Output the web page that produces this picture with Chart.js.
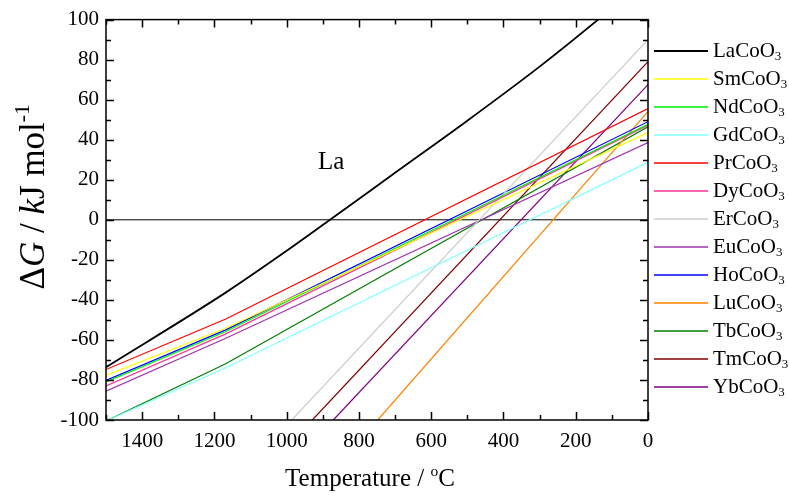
<!DOCTYPE html>
<html>
<head>
<meta charset="utf-8">
<script src="https://cdn.jsdelivr.net/npm/chart.js@4.4.1/dist/chart.umd.min.js"></script>
<style>
  html, body { margin: 0; padding: 0; background: #fff; }
  canvas { display: block; }
</style>
</head>
<body>
<canvas id="chart" width="789" height="497"></canvas>
<script>
// series data (temperature in degC, dG in kJ/mol)
const names = ["LaCoO3", "SmCoO3", "NdCoO3", "GdCoO3", "PrCoO3", "DyCoO3", "ErCoO3",
  "EuCoO3", "HoCoO3", "LuCoO3", "TbCoO3", "TmCoO3", "YbCoO3"];
const colors = ["#000000", "#ffff00", "#00ee00", "#80ffff", "#ff0000", "#ff3399", "#cccccc",
  "#a030b0", "#0000ff", "#ff8000", "#008000", "#800000", "#800080"];

const laTemps = [1500, 1170, 1000, 880, 700, 500, 300, 138, 0];
const laValues = [-73.6, -36.5, -15.5, 0, 23.5, 49.5, 76.5, 100, 121];

const knotTemps = [1500, 1170, 0];
const smValues = [-77.7, -54.3, 43.6];
const ndValues = [-81, -55.9, 47.7];
const gdValues = [-100.5, -74, 28.7];
const prValues = [-74.8, -49.7, 55.6];
const dyValues = [-83, -57.1, 47.2];
const euValues = [-85.6, -59.3, 38.6];
const hoValues = [-80.2, -55.1, 49];
const tbValues = [-100.5, -72, 46.5];

const erTemps = [986, 0];
const erValues = [-100, 90];
const luTemps = [748, 0];
const luValues = [-100, 54];
const tmTemps = [929, 0];
const tmValues = [-100, 79];
const ybTemps = [871, 0];
const ybValues = [-100, 67.5];

const zeroTemps = [1500, 0];
const zeroValues = [0, 0];

const xTicks = [0, 200, 400, 600, 800, 1000, 1200, 1400];

const serif = "'Liberation Serif', 'Times New Roman', serif";

function pts(xs, ys) {
  return xs.map((x, i) => ({ x, y: ys[i] }));
}

const seriesPoints = [
  pts(laTemps, laValues),
  pts(knotTemps, smValues),
  pts(knotTemps, ndValues),
  pts(knotTemps, gdValues),
  pts(knotTemps, prValues),
  pts(knotTemps, dyValues),
  pts(erTemps, erValues),
  pts(knotTemps, euValues),
  pts(knotTemps, hoValues),
  pts(luTemps, luValues),
  pts(knotTemps, tbValues),
  pts(tmTemps, tmValues),
  pts(ybTemps, ybValues),
];

const datasets = names.map((name, i) => ({
  label: name,
  data: seriesPoints[i],
  borderColor: colors[i],
  borderWidth: i === 0 ? 1.8 : 1.2,
  cubicInterpolationMode: i === 0 ? "monotone" : "default",
}));
datasets.push({
  label: "zero",
  data: pts(zeroTemps, zeroValues),
  borderColor: "#000",
  borderWidth: 1,
});

// draw a string made of styled pieces (italic / superscript / subscript)
function drawPieces(ctx, pieces, x, y, size) {
  let cx = x;
  pieces.forEach((p) => {
    const s = p.sup || p.sub ? size * 0.62 : size;
    ctx.font = (p.italic ? "italic " : "") + s + "px " + serif;
    let dy = 0;
    if (p.sup) dy = -size * 0.42;
    if (p.sub) dy = size * 0.28;
    ctx.fillText(p.t, cx, y + dy);
    cx += ctx.measureText(p.t).width;
  });
  return cx - x;
}

function piecesWidth(ctx, pieces, size) {
  let w = 0;
  pieces.forEach((p) => {
    const s = p.sup || p.sub ? size * 0.62 : size;
    ctx.font = (p.italic ? "italic " : "") + s + "px " + serif;
    w += ctx.measureText(p.t).width;
  });
  return w;
}

const decorations = {
  id: "decorations",
  afterDatasetsDraw(chart) {
    const { ctx, chartArea: a, scales } = chart;
    const xs = scales.x, ys = scales.y;
    ctx.save();
    ctx.strokeStyle = "#000";
    ctx.fillStyle = "#000";
    ctx.lineWidth = 1.5;

    // frame
    ctx.strokeRect(a.left, a.top, a.right - a.left, a.bottom - a.top);

    // inward ticks on all four sides
    ctx.beginPath();
    for (let v = 0; v <= 1500; v += 100) {
      const px = Math.round(xs.getPixelForValue(v)) + 0.5;
      const len = v % 200 === 0 ? 8 : 5;
      ctx.moveTo(px, a.bottom); ctx.lineTo(px, a.bottom - len);
      ctx.moveTo(px, a.top); ctx.lineTo(px, a.top + len);
    }
    for (let v = -100; v <= 100; v += 10) {
      const py = Math.round(ys.getPixelForValue(v)) + 0.5;
      const len = v % 20 === 0 ? 8 : 5;
      ctx.moveTo(a.left, py); ctx.lineTo(a.left + len, py);
      ctx.moveTo(a.right, py); ctx.lineTo(a.right - len, py);
    }
    ctx.stroke();

    // legend
    ctx.textBaseline = "middle";
    ctx.textAlign = "left";
    names.forEach((name, i) => {
      const y = 51 + i * 28;
      ctx.strokeStyle = colors[i];
      ctx.lineWidth = i === 0 ? 1.8 : 1.5;
      ctx.beginPath();
      ctx.moveTo(654, y);
      ctx.lineTo(708, y);
      ctx.stroke();
      ctx.fillStyle = "#000";
      drawPieces(ctx, [{ t: name.slice(0, -1) }, { t: "3", sub: true }], 713, y, 21);
    });

    // "La" annotation
    ctx.textBaseline = "alphabetic";
    ctx.font = "25px " + serif;
    ctx.fillText("La", xs.getPixelForValue(913), ys.getPixelForValue(25.5));

    // x title
    const xt = [{ t: "Temperature / " }, { t: "o", sup: true }, { t: "C" }];
    const xw = piecesWidth(ctx, xt, 25);
    drawPieces(ctx, xt, (a.left + a.right) / 2 - 7 - xw / 2, 486, 25);

    // y title, rotated
    const yt = [{ t: "Δ" }, { t: "G", italic: true }, { t: " / " }, { t: "k", italic: true },
      { t: "J mol" }, { t: "-1", sup: true }];
    const yw = piecesWidth(ctx, yt, 35);
    ctx.translate(44, (a.top + a.bottom) / 2 - 23);
    ctx.rotate(-Math.PI / 2);
    drawPieces(ctx, yt, -yw / 2, 0, 35);
    ctx.restore();
  },
};

new Chart(document.getElementById("chart"), {
  type: "line",
  data: { datasets },
  options: {
    responsive: false,
    devicePixelRatio: 1,
    animation: false,
    elements: { point: { radius: 0 }, line: { tension: 0 } },
    layout: { padding: { top: 16, right: 141, bottom: 0, left: 0 } },
    plugins: { legend: { display: false }, tooltip: { enabled: false } },
    scales: {
      x: {
        type: "linear",
        reverse: true,
        min: 0,
        max: 1500,
        grid: { display: false, drawTicks: false },
        border: { display: false },
        afterBuildTicks(scale) {
          scale.ticks = xTicks.map((v) => ({ value: v }));
        },
        afterFit(scale) { scale.height = 77; },
        ticks: {
          color: "#000", padding: 9, maxRotation: 0,
          font: { family: serif, size: 21 },
          callback: (v) => String(v),
        },
      },
      y: {
        min: -100,
        max: 100,
        grid: { display: false, drawTicks: false },
        border: { display: false },
        afterFit(scale) { scale.width = 106; },
        ticks: {
          color: "#000", padding: 7, stepSize: 20,
          font: { family: serif, size: 21 },
          callback: (v) => String(v),
        },
      },
    },
  },
  plugins: [decorations],
});
</script>
</body>
</html>
